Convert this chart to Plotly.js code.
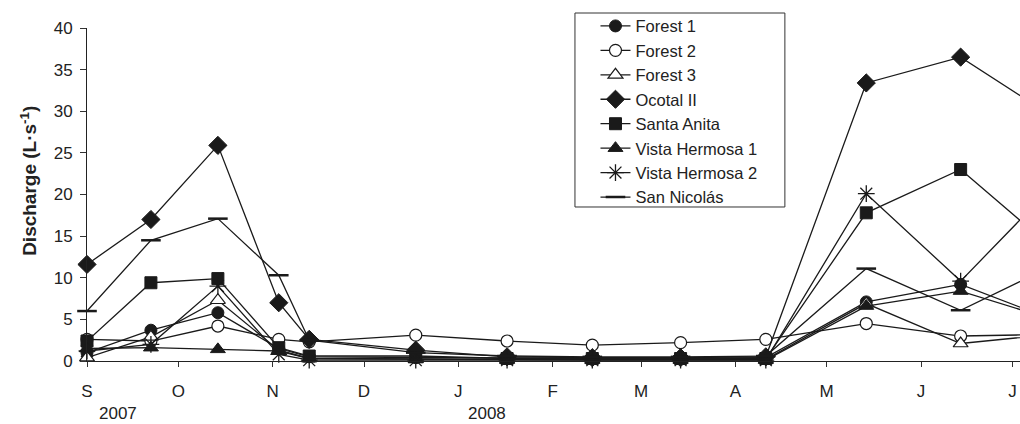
<!DOCTYPE html>
<html>
<head>
<meta charset="utf-8">
<script src="https://cdn.plot.ly/plotly-3.0.1.min.js"></script>
<style>html,body{margin:0;padding:0;background:#fff;}#chart{width:1020px;height:424px;}</style>
</head>
<body>
<div id="chart"></div>
<script>
// Sampling dates (last one lies beyond the visible axis range)
var dates = ['2007-09-01','2007-09-22','2007-10-14','2007-11-03','2007-11-13','2007-12-18','2008-01-17','2008-02-14','2008-03-14','2008-04-11','2008-05-14','2008-06-14','2008-07-14'];

var forest1     = [1.0, 3.7, 5.8, 1.5, 0.5, 0.4, 0.4, 0.3, 0.3, 0.4, 7.1, 9.2, 5.0];
var forest2     = [2.6, 2.4, 4.2, 2.6, 2.3, 3.1, 2.4, 1.9, 2.2, 2.6, 4.5, 3.0, 3.2];
var forest3     = [0.4, 2.9, 7.3, 1.3, 0.3, 0.2, 0.2, 0.2, 0.2, 0.2, 6.9, 2.1, 3.2];
var ocotal      = [11.6, 17.0, 25.9, 7.0, 2.6, 1.3, 0.5, 0.4, 0.4, 0.5, 33.4, 36.5, 29.4];
var santaAnita  = [2.4, 9.4, 9.9, 1.6, 0.6, 0.6, 0.3, 0.3, 0.3, 0.3, 17.8, 23.0, 13.6];
var vistaH1     = [1.5, 1.6, 1.4, 1.2, 0.3, 0.2, 0.1, 0.1, 0.1, 0.1, 6.6, 8.4, 5.0];
var vistaH2     = [1.2, 2.0, 9.0, 0.8, 0.1, 0.1, 0.1, 0.1, 0.1, 0.1, 20.1, 9.6, 20.9];
var sanNicolas  = [6.0, 14.5, 17.1, 10.3, 2.5, 1.0, 0.6, 0.5, 0.5, 0.6, 11.1, 6.1, 11.4];

var seriesNames = ['Forest 1','Forest 2','Forest 3','Ocotal II','Santa Anita','Vista Hermosa 1','Vista Hermosa 2','San Nicolás'];

var monthTickVals = ['2007-09-01','2007-10-01','2007-11-01','2007-12-01','2008-01-01','2008-02-01','2008-03-01','2008-04-01','2008-05-01','2008-06-01','2008-07-01'];
var monthTickText = ['S','O','N','D','J','F','M','A','M','J','J'];
var yearLabels = ['2007','2008'];
var yTitle = '<b>Discharge (L·s<sup>-1</sup>)</b>';

var INK = '#1a1a1a';
function mk(name, y, symbol, fill, size, lw) {
  return {
    type: 'scatter', mode: 'lines+markers', name: name, x: dates, y: y,
    cliponaxis: false,
    line: {color: INK, width: 1.3},
    marker: {symbol: symbol, color: fill, size: size, line: {color: INK, width: lw}}
  };
}

var data = [
  mk(seriesNames[0], forest1, 'circle', INK, 12, 1),
  mk(seriesNames[1], forest2, 'circle', '#ffffff', 12, 1.2),
  mk(seriesNames[2], forest3, 'triangle-up', '#ffffff', 13, 1.2),
  mk(seriesNames[3], ocotal, 'diamond', INK, 14, 1),
  mk(seriesNames[4], santaAnita, 'square', INK, 12, 1),
  mk(seriesNames[5], vistaH1, 'triangle-up', INK, 13, 1),
  mk(seriesNames[6], vistaH2, 'asterisk-open', INK, 14, 1.3),
  mk(seriesNames[7], sanNicolas, 'line-ew-open', INK, 14, 2.5)
];

var layout = {
  width: 1020, height: 424,
  margin: {l: 87, r: 0, t: 28, b: 63},
  paper_bgcolor: '#ffffff', plot_bgcolor: '#ffffff',
  font: {family: '"Liberation Sans", Arial, sans-serif', size: 17, color: '#222'},
  showlegend: true,
  legend: {
    x: 0.545, y: 1.058, xanchor: 'left', yanchor: 'top',
    borderwidth: 0, bgcolor: 'rgba(0,0,0,0)',
    font: {size: 16.5, color: '#222'},
    tracegroupgap: 0
  },
  shapes: [
    {type: 'rect', xref: 'paper', yref: 'paper', x0: 0.523, x1: 0.748, y0: 0.4625, y1: 1.045,
     line: {color: '#333', width: 1}, fillcolor: '#ffffff', layer: 'above'}
  ],
  xaxis: {
    type: 'date',
    range: ['2007-09-01', '2008-07-03 12:00'],
    tickmode: 'array', tickvals: monthTickVals, ticktext: monthTickText,
    ticks: 'outside', ticklen: 5, tickcolor: '#333', tickwidth: 1,
    ticklabelstandoff: 10,
    showline: true, linecolor: '#222', linewidth: 1,
    showgrid: false, zeroline: false,
    tickfont: {size: 17, color: '#222'}
  },
  yaxis: {
    range: [0, 40], dtick: 5, tick0: 0,
    ticks: 'outside', ticklen: 6, tickcolor: '#333', tickwidth: 1,
    ticklabelstandoff: 4,
    showline: true, linecolor: '#222', linewidth: 1,
    showgrid: false, zeroline: false,
    tickfont: {size: 17, color: '#222'}
  },
  annotations: [
    {text: yTitle, textangle: -90, xref: 'paper', yref: 'paper', x: -0.0625, y: 0.54, xanchor: 'center', yanchor: 'middle', showarrow: false, font: {size: 19, color: '#222'}},
    {text: yearLabels[0], xref: 'paper', yref: 'paper', x: 0.0332, y: -0.157, xanchor: 'center', yanchor: 'middle', showarrow: false, font: {size: 17, color: '#222'}},
    {text: yearLabels[1], xref: 'paper', yref: 'paper', x: 0.4287, y: -0.157, xanchor: 'center', yanchor: 'middle', showarrow: false, font: {size: 17, color: '#222'}}
  ]
};

Plotly.newPlot('chart', data, layout, {staticPlot: true, displayModeBar: false});
</script>
</body>
</html>
